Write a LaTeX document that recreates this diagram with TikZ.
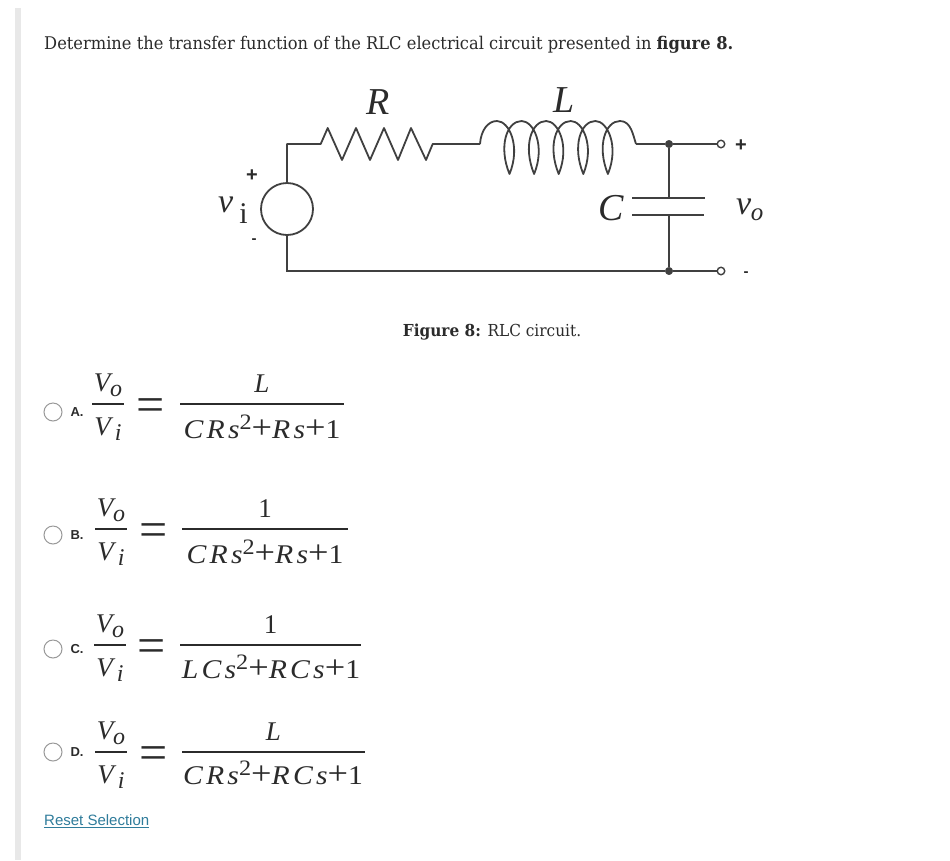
\documentclass[tikz,border=0pt]{standalone}
\usepackage{fontspec}
\setmainfont[FakeStretch=0.93]{DejaVu Serif}
\setsansfont{Liberation Sans}
\newfontfamily\mathf{Liberation Serif}
\newfontfamily\mathw[FakeStretch=1.1,LetterSpace=12]{Liberation Serif}
\definecolor{wire}{HTML}{404040}
\definecolor{ink}{HTML}{2B2B2B}
\definecolor{linkc}{HTML}{2F7C9B}
\definecolor{sidebar}{HTML}{E8E8E8}
\newcommand{\ms}[1]{\fontsize{#1}{#1}\selectfont}
\newcommand{\supr}{\raisebox{9pt}{\upshape\ms{22}2}}
\newcommand{\dplus}{{\upshape\ms{33}+}}
\tikzset{
 wireline/.style={draw=wire,line width=1.8pt},
 dotj/.style={circle,fill=wire,draw=wire,inner sep=0pt,minimum size=7.5pt},
 term/.style={circle,fill=white,draw=wire,line width=1.4pt,inner sep=0pt,minimum size=7.5pt},
 src/.style={circle,draw=wire,fill=white,line width=1.8pt,inner sep=0pt,minimum size=52pt},
 radio/.style={circle,draw=gray!80,fill=white,line width=1pt,inner sep=0pt,minimum size=18pt},
 optl/.style={text=ink,font=\sffamily\bfseries\ms{13}},
 eqt/.style={text=ink,inner sep=0pt,font=\mathf\itshape\ms{27}},
 eqd/.style={text=ink,inner sep=0pt,anchor=base,font=\mathw\itshape\ms{27}},
 eqn/.style={text=ink,inner sep=0pt,anchor=base,font=\mathf\ms{50}},
 bar/.style={draw=ink,line width=1.6pt},
 cirl/.style={text=ink,inner sep=0pt,font=\mathf\itshape\ms{38}},
 plussign/.style={text=ink,inner sep=0pt,font=\sffamily\bfseries\ms{20}},
 minussign/.style={text=ink,inner sep=0pt,font=\sffamily\bfseries\ms{15}}
}
\newcommand{\opt}[9]{%
 \node[radio] (r#1) at (53,#2) {};
 \node[optl] (l#1) at (77,#2) {#3};
 \node[eqt] (vo#1) at (#4,#5-19) {V\raisebox{-5pt}{\ms{24}o}};
 \node[eqt] (vi#1) at (#4,#5+25) {V\raisebox{-5pt}{\ms{24}\,i}};
 \draw[bar] (#4-16,#5) -- (#4+16,#5);
 \node[eqn] (eq#1) at (#6+1,#5+17.5) {=};
 \coordinate (a#1) at (#7,#5); \coordinate (b#1) at (#8,#5);
 \draw[bar] (a#1) -- (b#1);
 \node[eqt] (n#1) at ({(#7+#8)/2},#5-20) {#9};
}
\begin{document}
\begin{tikzpicture}[x=1pt,y=-1pt]
\useasboundingbox (0,0) rectangle (950,860);
\fill[white] (0,0) rectangle (950,860);
\fill[sidebar] (15,8) rectangle (21,860);
\node[anchor=west,inner sep=0pt,text=ink,font=\ms{17.5}] (q) at (44,45) {Determine the transfer function of the RLC electrical circuit presented in \textbf{figure 8.}};
% circuit
\node[src] (vs) at (287,209) {};
\coordinate (tl) at (287,144);
\coordinate (bl) at (287,271);
\coordinate (rs) at (320.7,144);
\coordinate (re) at (432.7,144);
\coordinate (ls) at (480,144);
\coordinate (le) at (636,144);
\node[dotj] (jt) at (669,144) {};
\node[dotj] (jb) at (669,271) {};
\node[term] (tt) at (721,144) {};
\node[term] (tb) at (721,271) {};
\coordinate (p1a) at (632,198); \coordinate (p1b) at (705,198);
\coordinate (p2a) at (632,215); \coordinate (p2b) at (704,215);
\coordinate (p1) at (669,198); \coordinate (p2) at (669,215);
\draw[wireline,line join=round] (vs.north) -- (tl) -- (rs) -- (327.7,128) -- (342,160) -- (356,128) -- (370,160) -- (384,128) -- (398,160) -- (411,128) -- (426,160) -- (re) -- (ls);
\draw[wireline] (vs.south) -- (bl) -- (jb) -- (tb);
\draw[wireline] (le) -- (jt) -- (tt);
\draw[wireline] (jt) -- (p1);
\draw[wireline] (p2) -- (jb);
\draw[wireline] (p1a) -- (p1b);
\draw[wireline] (p2a) -- (p2b);
\draw[wireline,line join=round] (ls) .. controls (481,130) and (488,121) .. (497,121)
 \foreach \k in {0,...,4} { 
   .. controls ({509+24.6*\k},121) and ({521+24.6*\k},146) .. ({509.5+24.6*\k},174)
   .. controls ({498+24.6*\k},146) and ({507+24.6*\k},121) .. ({521.6+24.6*\k},121) }
 .. controls (631,121) and (633,135) .. (le);
\node[cirl] (R) at (378,102) {R};
\node[cirl] (L) at (564,100) {L};
\node[cirl] (C) at (611,208) {C};
\node[cirl,anchor=west,font=\mathf\itshape\ms{34}] (vi) at (218,205) {v};
\node[text=ink,inner sep=0pt,font=\mathf\ms{30}] (vii) at (243.5,214) {i};
\node[cirl,anchor=west,font=\mathf\itshape\ms{34}] (vo) at (736,207) {v};
\node[text=ink,inner sep=0pt,font=\mathf\itshape\ms{25}] (voo) at (757,215) {o};
\node[plussign] (pi) at (252,176) {+};
\node[minussign] (mi) at (254,241) {-};
\node[plussign] (po) at (741,146) {+};
\node[minussign] (mo) at (746,274) {-};
\node[inner sep=0pt,text=ink,font=\ms{16.5}] (cap) at (492,332) {\textbf{Figure 8:} RLC circuit.};
% options
\opt{A}{412}{A.}{108}{404}{150}{180}{344}{L}
\node[eqd] (dA) at (262,438) {CRs\supr\dplus\itshape Rs\dplus\upshape 1};
\opt{B}{535}{B.}{111}{529}{153}{182}{348}{\upshape 1}
\node[eqd] (dB) at (265,563) {CRs\supr\dplus\itshape Rs\dplus\upshape 1};
\opt{C}{649}{C.}{110}{645}{151}{180}{361}{\upshape 1}
\node[eqd] (dC) at (271,678) {LCs\supr\dplus\itshape RCs\dplus\upshape 1};
\opt{D}{752}{D.}{111}{752}{153}{182}{365}{L}
\node[eqd] (dD) at (273,784) {CRs\supr\dplus\itshape RCs\dplus\upshape 1};
\node[anchor=west,inner sep=0pt,text=linkc,font=\sffamily\ms{15}] (reset) at (44,820) {Reset Selection};
\draw[linkc,line width=.7pt] (reset.south west) ++(0,1.5) -- ([yshift=-1.5pt]reset.south east);
\end{tikzpicture}
\end{document}
